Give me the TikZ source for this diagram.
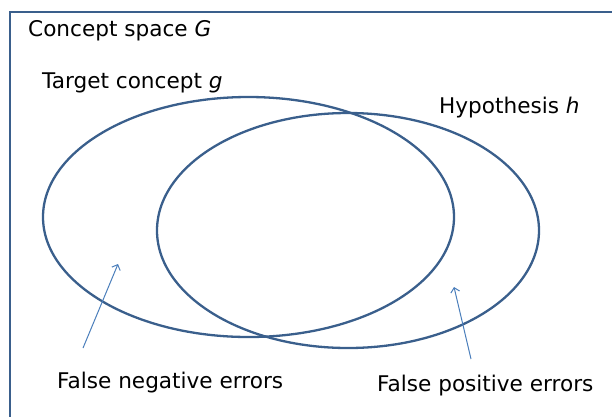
\documentclass[tikz,border=0pt]{standalone}
\usepackage{fontspec}
\setmainfont{DejaVu Sans}
\usepackage{tikz}
\usetikzlibrary{shapes.geometric, arrows.meta}
\definecolor{setblue}{HTML}{3A5F8C}
\definecolor{arrowblue}{HTML}{4A7EBB}
\tikzset{
    >={Straight Barb[length=4.5pt,width=9pt]},
    concept/.style={ellipse, draw=setblue, line width=2.3pt, inner sep=0pt},
    caption/.style={anchor=base west, inner sep=0pt, font=\fontsize{21.6}{26}\selectfont},
    pointer/.style={->, draw=arrowblue, line width=1pt},
}

\begin{document}
\begin{tikzpicture}[x=1pt, y=-1pt]
    \useasboundingbox (0,0) rectangle (612,416);
    % concept space frame
    \draw[setblue, line width=1.6pt] (613,12) -| (10,417);

    \node[concept, minimum width=411pt, minimum height=240pt] (g) at (248.5,217) {};
    \node[concept, minimum width=382pt, minimum height=235pt] (h) at (348,230.5) {};

    \node[caption] (space)  at (28,36)   {Concept space \textit{G}};
    \node[caption] (target) at (42,88)   {Target concept \textit{g}};
    \node[caption] (hyp)    at (439,113) {Hypothesis \textit{h}};
    \node[caption] (fneg)   at (57,388)  {False negative errors};
    \node[caption] (fpos)   at (377,391) {False positive errors};

    \coordinate (fnegtail) at (83,348);
    \coordinate (fnegtip)  at (118,264);
    \coordinate (fpostail) at (471,359);
    \coordinate (fpostip)  at (454,287);
    \draw[pointer] (fnegtail) -- (fnegtip);
    \draw[pointer] (fpostail) -- (fpostip);
\end{tikzpicture}
\end{document}
